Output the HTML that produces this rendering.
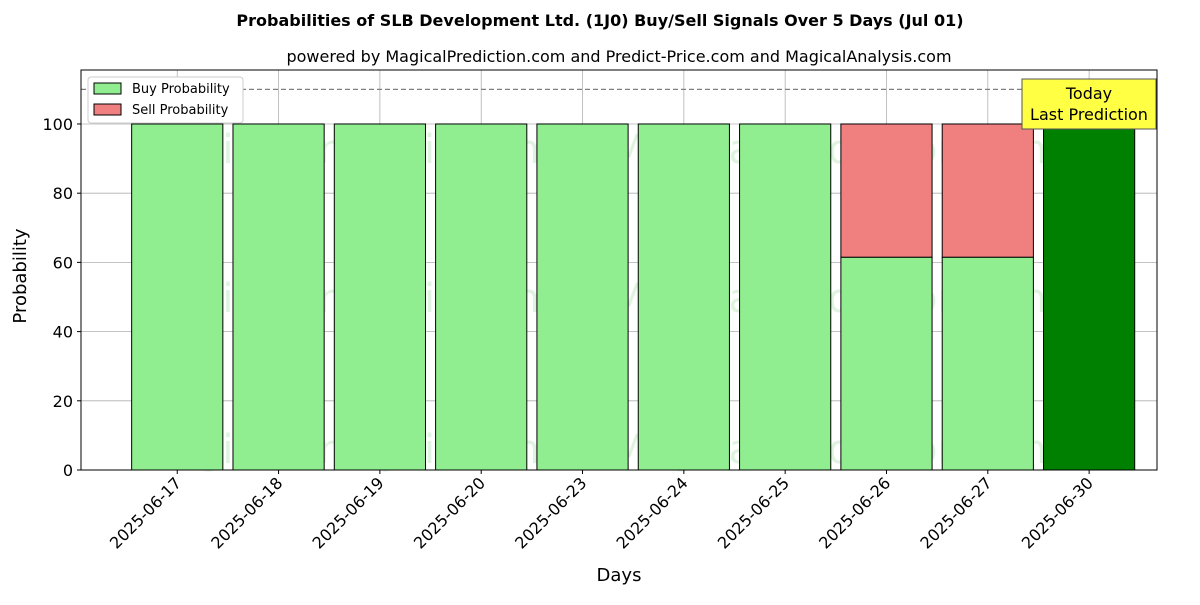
<!DOCTYPE html>
<html><head><meta charset="utf-8"><style>
body{margin:0;background:#fff;font-family:"Liberation Sans","DejaVu Sans",sans-serif;}
svg text{font-family:"DejaVu Sans","Liberation Sans",sans-serif;}
</style></head><body>
<svg id="chart" width="1200" height="600" viewBox="0 0 1200 600" xmlns="http://www.w3.org/2000/svg">
<text x="600" y="26" text-anchor="middle" font-size="16" font-weight="bold">Probabilities of SLB Development Ltd. (1J0) Buy/Sell Signals Over 5 Days (Jul 01)</text>
<text x="619" y="62" text-anchor="middle" font-size="16">powered by MagicalPrediction.com and Predict-Price.com and MagicalAnalysis.com</text>
<g id="grid"></g>
<g id="watermarks" font-size="40" fill="rgba(0,160,0,0.12)">
<text x="346" y="163" text-anchor="middle">MagicalAnalysis.com</text>
<text x="836" y="163" text-anchor="middle">MagicalPrediction.com</text>
<text x="346" y="312" text-anchor="middle">MagicalAnalysis.com</text>
<text x="836" y="312" text-anchor="middle">MagicalPrediction.com</text>
<text x="346" y="463" text-anchor="middle">MagicalAnalysis.com</text>
<text x="836" y="463" text-anchor="middle">MagicalPrediction.com</text>
</g>
<g id="bars"></g>
<line x1="81" x2="1157" y1="89.4" y2="89.4" stroke="#808080" stroke-width="1.2" stroke-dasharray="5,3"/>
<rect x="81" y="70" width="1076" height="400" fill="none" stroke="#000" stroke-width="1"/>
<g id="axes"></g>
<text x="20" y="270" font-size="18" text-anchor="middle" transform="rotate(-90 26 270)">Probability</text>
<text x="619" y="581" font-size="18" text-anchor="middle">Days</text>
<g>
<rect x="88" y="77" width="155" height="46" fill="#fff" stroke="#ccc" rx="3"/>
<rect x="94" y="83" width="27" height="11" fill="#90ee90" stroke="#000"/>
<text x="132" y="93" font-size="13">Buy Probability</text>
<rect x="94" y="104" width="27" height="11" fill="#f08080" stroke="#000"/>
<text x="132" y="114" font-size="13">Sell Probability</text>
</g>
<g>
<rect x="1022" y="79" width="134" height="50" fill="#ffff44" stroke="#555"/>
<text x="1089" y="99" font-size="16" text-anchor="middle">Today</text>
<text x="1089" y="120" font-size="16" text-anchor="middle">Last Prediction</text>
</g>
</svg>
<script>
const categories=["2025-06-17","2025-06-18","2025-06-19","2025-06-20","2025-06-23","2025-06-24","2025-06-25","2025-06-26","2025-06-27","2025-06-30"];
const buyValues=[100,100,100,100,100,100,100,61.5,61.5,100];
const sellValues=[0,0,0,0,0,0,0,38.5,38.5,0];
const yTicks=[0,20,40,60,80,100];
const NS="http://www.w3.org/2000/svg";
const L=81,R=1157,T=70,B=470,xmin=-0.95,xmax=9.67,ymin=0,ymax=115.6;
const xs=i=>L+(i-xmin)/(xmax-xmin)*(R-L);
const ys=v=>B-(v-ymin)/(ymax-ymin)*(B-T);
function mk(tag,attrs,parent){const e=document.createElementNS(NS,tag);for(const k in attrs)e.setAttribute(k,attrs[k]);parent.appendChild(e);return e;}
const grid=document.getElementById('grid'),bars=document.getElementById('bars'),axes=document.getElementById('axes');
yTicks.forEach(v=>{
 const y=ys(v);
 const g=mk('line',{x1:L,x2:R,y1:y,y2:y,stroke:'#b0b0b0','stroke-width':0.8},grid);
 
 
 mk('line',{x1:L-4,x2:L,y1:y,y2:y,stroke:'#000'},axes);
 const t=mk('text',{x:L-8,y:y+6,'text-anchor':'end','font-size':16},axes);
 t.textContent=v;
 
 
});
const bw=0.9*(xs(1)-xs(0));
categories.forEach((c,i)=>{
 const x=xs(i);
 const g=mk('line',{x1:x,x2:x,y1:T,y2:B,stroke:'#b0b0b0','stroke-width':0.8},grid);
 
 
 const last=i===categories.length-1;
 const b=mk('rect',{x:x-bw/2,y:ys(buyValues[i]),width:bw,height:ys(0)-ys(buyValues[i]),fill:last?'#008000':'#90ee90',stroke:'#000','stroke-width':1},bars);
 
 
 if(sellValues[i]>0){
  const s=mk('rect',{x:x-bw/2,y:ys(buyValues[i]+sellValues[i]),width:bw,height:ys(buyValues[i])-ys(buyValues[i]+sellValues[i]),fill:'#f08080',stroke:'#000','stroke-width':1},bars);
  
  
 }
 mk('line',{x1:x,x2:x,y1:B,y2:B+4,stroke:'#000'},axes);
 const t=mk('text',{x:x+5,y:B+14,'text-anchor':'end','font-size':16,transform:`rotate(-45 ${x+5} ${B+14})`},axes);
 t.textContent=c;
 
 
});
</script>
</body></html>
